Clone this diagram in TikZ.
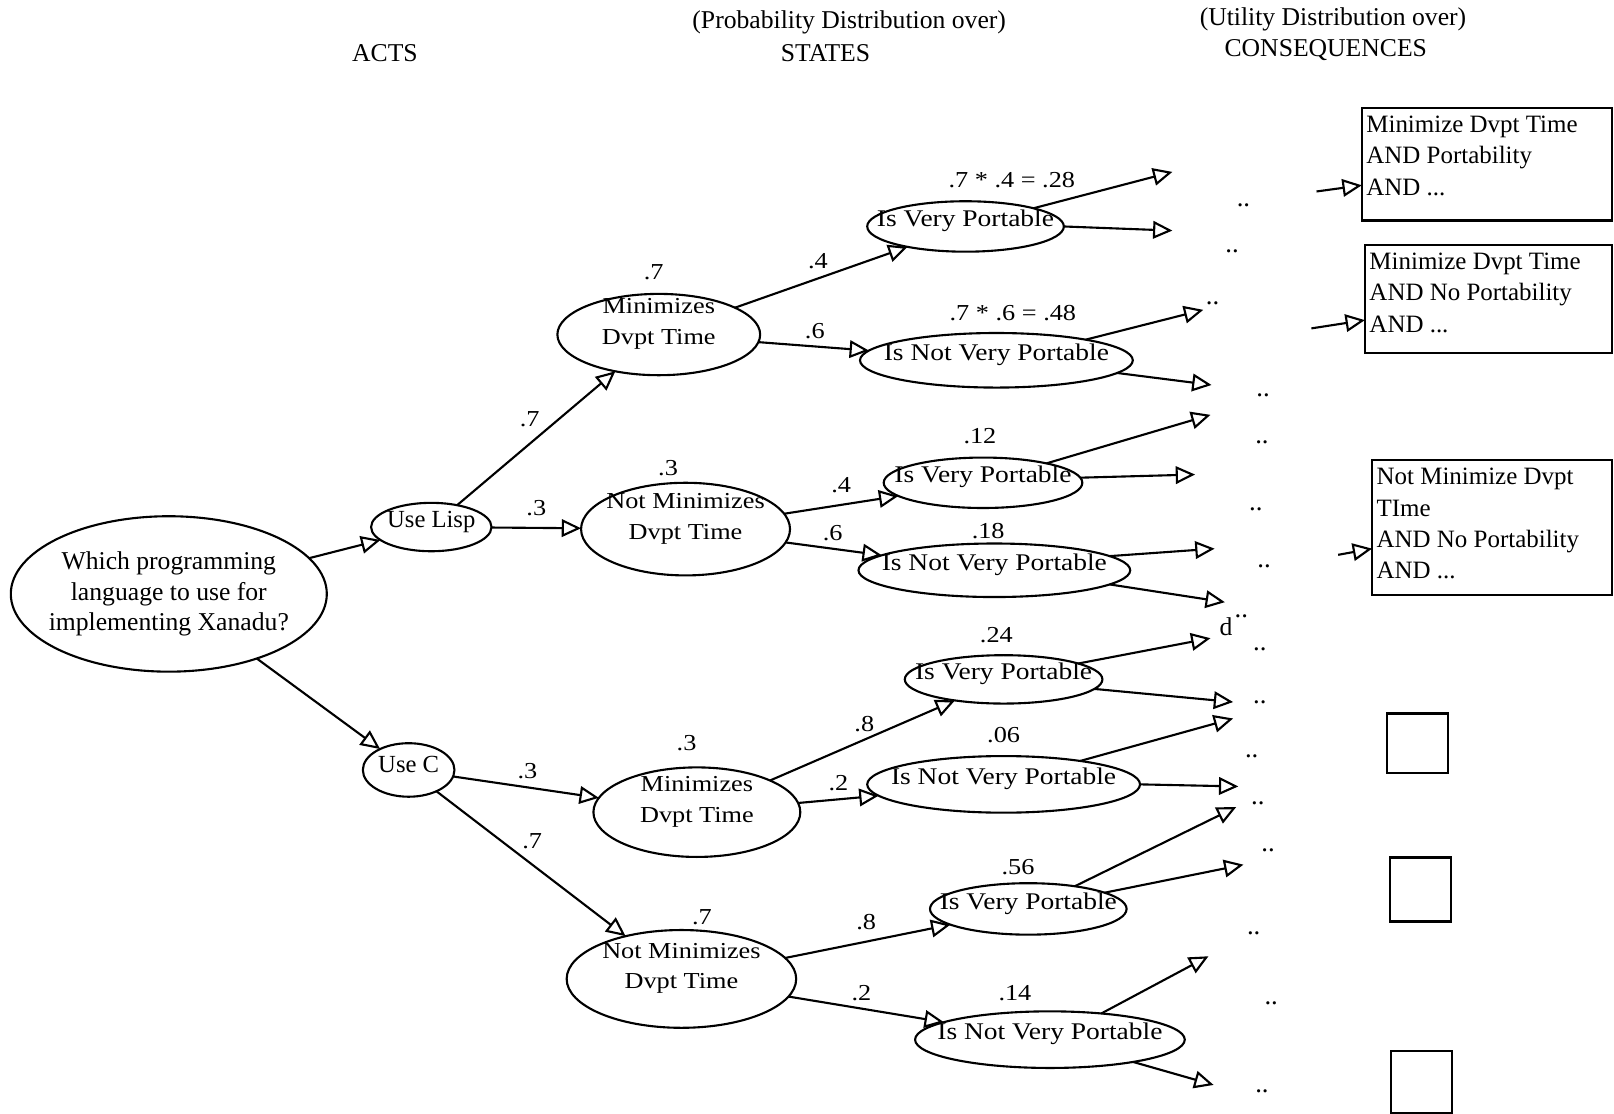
\documentclass[tikz,border=0pt]{standalone}
\usepackage{fontspec}
\setmainfont{Liberation Serif}
\newfontfamily\widefont{Liberation Serif}[FakeStretch=1.15]
\usepackage{tikz}
\usetikzlibrary{positioning,shapes.geometric,arrows.meta}

\tikzset{
    dims/.style 2 args={
        minimum width=#1*0.2929pt,
        minimum height=#2*0.2929pt
    }
}

\begin{document}
\begin{tikzpicture}[
    x=0.2929pt, y=-0.2929pt,
    line width=0.6pt,
    oval/.style={
        ellipse,
        draw,
        inner sep=0pt,
        outer sep=0pt
    },
    conbox/.style={
        rectangle,
        draw,
        line width=0.7pt,
        inner sep=0pt,
        outer sep=0pt
    },
    roottext/.style={
        font=\fontsize{7.3}{8.6}\selectfont,
        align=center
    },
    usetext/.style={
        font=\fontsize{7}{8.4}\selectfont,
        yshift=1.5pt
    },
    acttext/.style={
        font=\widefont\fontsize{6.5}{8.8}\selectfont,
        align=center,
        yshift=3pt
    },
    statetext/.style={
        font=\widefont\fontsize{6.8}{7.8}\selectfont,
        yshift=1.6pt
    },
    boxtext/.style={
        font=\fontsize{7.1}{8.9}\selectfont,
        align=left,
        anchor=north west,
        inner xsep=1pt,
        inner ysep=2pt
    },
    prob/.style={
        font=\widefont\fontsize{6.5}{7.5}\selectfont,
        inner sep=1pt
    },
    head/.style={
        font=\fontsize{7.3}{8.8}\selectfont
    },
    dots/.style={
        font=\fontsize{7.6}{8.8}\selectfont,
        inner sep=0pt
    },
    arrow/.style={
        -{Triangle[open, length=5.5pt, width=5pt]}
    }
]
\useasboundingbox (0,0) rectangle (1568,1082);

\node[head] (acts) at (374,52) {ACTS};
\node[head] (probhead) at (825,22) {(Probability Distribution over)};
\node[head] (states) at (802,52) {STATES};
\node[head] (utilhead) at (1295,19) {(Utility Distribution over)};
\node[head] (conseq) at (1288,49) {CONSEQUENCES};

\node[oval, dims={307}{151}, label={[roottext]center:{Which programming\\language to use for\\implementing Xanadu?}}] (question) at (164,577) {};

\node[oval, dims={117}{47}, label={[usetext]center:Use Lisp}] (lisp) at (419,512) {};
\node[oval, dims={89}{52}, label={[usetext]center:Use C}] (clang) at (397,748) {};

\node[oval, dims={197}{79}, label={[acttext]center:{Minimizes\\Dvpt Time}}] (lispfast) at (640,325) {};
\node[oval, dims={203}{90}, label={[acttext]center:{Not Minimizes\\Dvpt Time}}] (lispslow) at (666,514) {};
\node[oval, dims={201}{87}, label={[acttext]center:{Minimizes\\Dvpt Time}}] (cfast) at (677,789) {};
\node[oval, dims={223}{95}, label={[acttext]center:{Not Minimizes\\Dvpt Time}}] (cslow) at (662,951) {};

\node[prob] (plf) at (635,264) {.7};
\node[prob] (pls) at (649,455) {.3};
\node[prob] (pcf) at (667,722) {.3};
\node[prob] (pcs) at (682,891) {.7};

\node[oval, dims={191}{49}, label={[statetext]center:Is Very Portable}] (lfport) at (938,220) {};
\node[oval, dims={265}{53}, label={[statetext]center:Is Not Very Portable}] (lfnoport) at (968,350) {};
\node[oval, dims={193}{49}, label={[statetext]center:Is Very Portable}] (lsport) at (955,469) {};
\node[oval, dims={264}{52}, label={[statetext]center:Is Not Very Portable}] (lsnoport) at (966,554) {};
\node[oval, dims={192}{47}, label={[statetext]center:Is Very Portable}] (cfport) at (975,660) {};
\node[oval, dims={265}{55}, label={[statetext]center:Is Not Very Portable}] (cfnoport) at (975,762) {};
\node[oval, dims={191}{50}, label={[statetext]center:Is Very Portable}] (csport) at (999,883) {};
\node[oval, dims={262}{55}, label={[statetext]center:Is Not Very Portable}] (csnoport) at (1020,1010) {};

\node[prob] (plfp) at (983,175) {.7 * .4 = .28};
\node[prob] (plfn) at (984,304) {.7 * .6 = .48};
\node[prob] (plsp) at (952,424) {.12};
\node[prob] (plsn) at (960,516) {.18};
\node[prob] (pcfp) at (968,617) {.24};
\node[prob] (pcfn) at (975,714) {.06};
\node[prob] (pcsp) at (989,842) {.56};
\node[prob] (pcsn) at (986,965) {.14};

\draw[arrow] (question) -- (lisp);
\draw[arrow] (question) -- (clang);
\draw[arrow] (lisp) -- node[prob, pos=.55, above left=0pt] (ea) {.7} (lispfast);
\draw[arrow] (lisp) -- node[prob, pos=.5, above=2pt] (eb) {.3} (lispslow);
\draw[arrow] (clang) -- node[prob, pos=.51, above=1.2pt] (ec) {.3} (cfast);
\draw[arrow] (clang) -- node[prob, pos=.43, above right=0pt] (ed) {.7} (cslow);

\draw[arrow] (lispfast) -- node[prob, pos=.48, above=1.5pt] (ee) {.4} (lfport);
\draw[arrow] (lispfast) -- node[prob, pos=.51, above=1pt] (ef) {.6} (lfnoport);
\draw[arrow] (lispslow) -- node[prob, pos=.5, above=2pt] (eg) {.4} (lsport);
\draw[arrow] (lispslow) -- node[prob, pos=.49, above=1pt] (eh) {.6} (lsnoport);
\draw[arrow] (cfast) -- node[prob, pos=.51, above=1pt] (ei) {.8} (cfport);
\draw[arrow] (cfast) -- node[prob, pos=.5, above=1.2pt] (ej) {.2} (cfnoport);
\draw[arrow] (cslow) -- node[prob, pos=.49, above=2pt] (ek) {.8} (csport);
\draw[arrow] (cslow) -- node[prob, pos=.47, above=1pt] (el) {.2} (csnoport);

\coordinate (lfp1) at (1139,167);
\coordinate (lfp2) at (1139,224);
\coordinate (lfn1) at (1169,301);
\coordinate (lfn2) at (1177,374);
\coordinate (lsp1) at (1176,403);
\coordinate (lsp2) at (1161,461);
\coordinate (lsn1) at (1180,533);
\coordinate (lsn2) at (1190,585);
\coordinate (cfp1) at (1176,620);
\coordinate (cfp2) at (1198,682);
\coordinate (cfn1) at (1198,698);
\coordinate (cfn2) at (1203,764);
\coordinate (csp1) at (1201,784);
\coordinate (csp2) at (1208,840);
\coordinate (csn1) at (1174,929);
\coordinate (csn2) at (1179,1054);

\draw[arrow] (lfport.15) -- (lfp1);
\draw[arrow] (lfport.0) -- (lfp2);
\draw[arrow] (lfnoport.13) -- (lfn1);
\draw[arrow] (lfnoport.-6) -- (lfn2);
\draw[arrow] (lsport.17) -- (lsp1);
\draw[arrow] (lsport.3) -- (lsp2);
\draw[arrow] (lsnoport.7) -- (lsn1);
\draw[arrow] (lsnoport.-7) -- (lsn2);
\draw[arrow] (cfport.12) -- (cfp1);
\draw[arrow] (cfport.-6) -- (cfp2);
\draw[arrow] (cfnoport.17) -- (cfn1);
\draw[arrow] (cfnoport.0) -- (cfn2);
\draw[arrow] (csport.26) -- (csp1);
\draw[arrow] (csport.12) -- (csp2);
\draw[arrow] (csnoport.27) -- (csn1);
\draw[arrow] (csnoport.-15) -- (csn2);

\node[dots] (dots1) at (1208,199) {..};
\node[dots] (dots2) at (1197,244) {..};
\node[dots] (dots3) at (1178,295) {..};
\node[dots] (dots4) at (1227,384) {..};
\node[dots] (dots5) at (1226,430) {..};
\node[dots] (dots6) at (1220,495) {..};
\node[dots] (dots7) at (1228,550) {..};
\node[head, inner sep=0pt] (dletter) at (1191,609) {d};
\node[dots] (dots8) at (1206,599) {..};
\node[dots] (dots9) at (1224,631) {..};
\node[dots] (dots10) at (1224,682) {..};
\node[dots] (dots11) at (1216,735) {..};
\node[dots] (dots12) at (1222,780) {..};
\node[dots] (dots13) at (1232,826) {..};
\node[dots] (dots14) at (1218,907) {..};
\node[dots] (dots15) at (1235,975) {..};
\node[dots] (dots16) at (1226,1060) {..};

\node[conbox, dims={243}{109}, label={[boxtext]north west:{Minimize Dvpt Time\\AND Portability\\AND ...}}] (cons1) at (1444.5,159.5) {};
\node[conbox, dims={240}{105}, label={[boxtext]north west:{Minimize Dvpt Time\\AND No Portability\\AND ...}}] (cons2) at (1446,290.5) {};
\node[conbox, dims={233}{131}, label={[boxtext]north west:{Not Minimize Dvpt\\TIme\\AND No Portability\\AND ...}}] (cons3) at (1449.5,512.5) {};

\coordinate (in1) at (1279,186);
\coordinate (in2) at (1274,319);
\coordinate (in3) at (1300,539);
\draw[arrow] (in1) -- ([yshift=-6pt]cons1.west);
\draw[arrow] (in2) -- ([yshift=-6pt]cons2.west);
\draw[arrow] (in3) -- ([yshift=-6pt]cons3.west);

\node[conbox, dims={59}{58}] (blank1) at (1377,722) {};
\node[conbox, dims={59}{62}] (blank2) at (1380,864) {};
\node[conbox, dims={59}{60}] (blank3) at (1381,1051) {};

\end{tikzpicture}
\end{document}
